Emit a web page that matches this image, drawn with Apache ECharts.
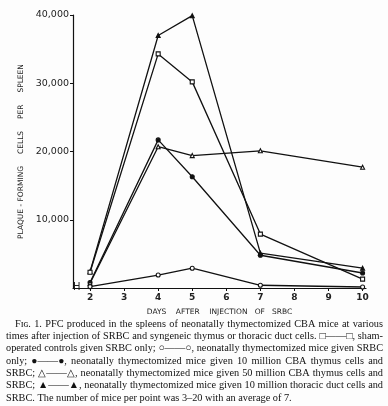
<!DOCTYPE html>
<html><head><meta charset="utf-8">
<script src="https://cdn.jsdelivr.net/npm/echarts@6/dist/echarts.min.js"></script>
<style>html,body{margin:0;padding:0;background:#fdfdfd}#c{width:388px;height:406px}</style>
</head><body><div id="c"></div>
<script>
var days = [2, 4, 5, 7, 10];
var dayTicks = [2, 3, 4, 5, 6, 7, 8, 9, 10];
var yTicks = [10000, 20000, 30000, 40000];
var thoracicDuct = [2400, 37000, 39900, 5100, 2900];   // filled triangles
var shamOperated = [2300, 34300, 30200, 7900, 1300];   // squares
var thymus10 = [800, 21700, 16300, 4800, 2200];        // filled circles
var thymus50 = [700, 20700, 19400, 20100, 17700];      // open triangles
var thymectomized = [200, 1900, 2900, 400, 150];       // open circles
var captionLines = [
  "F\u026A\u0262. 1. PFC produced in the spleens of neonatally thymectomized CBA mice at various",
  "times after injection of SRBC and syngeneic thymus or thoracic duct cells. \u25A1\u2014\u2014\u25A1, sham-",
  "operated controls given SRBC only; \u25CB\u2014\u2014\u25CB, neonatally thymectomized mice given SRBC",
  "only; \u25CF\u2014\u2014\u25CF, neonatally thymectomized mice given 10 million CBA thymus cells and",
  "SRBC; \u25B3\u2014\u2014\u25B3, neonatally thymectomized mice given 50 million CBA thymus cells and",
  "SRBC; \u25B2\u2014\u2014\u25B2, neonatally thymectomized mice given 10 million thoracic duct cells and",
  "SRBC. The number of mice per point was 3\u201320 with an average of 7."
];

function pts(vals){ return days.map(function(d,i){ return [d, vals[i]]; }); }
function mk(name, vals, symbol, filled){
  return {
    name: name, type: 'line', data: pts(vals), symbol: symbol, symbolSize: 4,
    showAllSymbol: true, animation: false,
    lineStyle: {color: '#111', width: 1.3},
    itemStyle: {color: filled ? '#111' : '#fff', borderColor: '#111', borderWidth: 1.1}
  };
}
var chart = echarts.init(document.getElementById('c'));
var graphics = [
  {type: 'text', left: 73, top: 282, style: {text: 'H', font: '10px "DejaVu Sans"', fill: '#222'}}
];
// justified caption
var capFont = '10.3px "Liberation Serif"';
var mctx = document.createElement('canvas').getContext('2d');
mctx.font = capFont;
var rightEdge = 383;
captionLines.forEach(function(t, i){
  var x0 = i === 0 ? 15 : 6;
  var y = 319 + i * 12.3;
  var words = t.split(' ');
  var last = i === captionLines.length - 1;
  var total = 0;
  words.forEach(function(w){ total += mctx.measureText(w).width; });
  var gap = last ? mctx.measureText(' ').width : (rightEdge - x0 - total) / (words.length - 1);
  var x = x0;
  words.forEach(function(w){
    graphics.push({type: 'text', x: x, y: y, style: {text: w, font: capFont, fill: '#111'}});
    x += mctx.measureText(w).width + gap;
  });
});
chart.setOption({
  backgroundColor: '#fdfdfd',
  animation: false,
  grid: {left: 73, right: 22, top: 15, bottom: 118},
  xAxis: {
    type: 'value', min: 1.5, max: 10.1,
    name: 'DAYS    AFTER    INJECTION   OF   SRBC', nameLocation: 'middle', nameGap: 20,
    nameTextStyle: {fontFamily: 'DejaVu Sans', fontSize: 7.5, color: '#222'},
    axisLine: {lineStyle: {color: '#111', width: 1.2}},
    axisTick: {customValues: dayTicks, length: 3, lineStyle: {color: '#111'}},
    axisLabel: {customValues: dayTicks, margin: 5, fontFamily: 'DejaVu Sans', fontSize: 9, fontWeight: 'bold', color: '#222'},
    splitLine: {show: false}
  },
  yAxis: {
    type: 'value', min: 0, max: 40000, interval: 10000,
    name: 'PLAQUE - FORMING     CELLS     PER     SPLEEN', nameLocation: 'middle', nameGap: 48,
    nameRotate: 90,
    nameTextStyle: {fontFamily: 'DejaVu Sans', fontSize: 7.5, color: '#222'},
    axisLine: {show: true, lineStyle: {color: '#111', width: 1.2}},
    axisTick: {show: true, customValues: yTicks, length: 3, lineStyle: {color: '#111'}},
    axisLabel: {customValues: yTicks, margin: 4, fontFamily: 'DejaVu Sans', fontSize: 9.5, color: '#222',
      formatter: function(v){ return v.toLocaleString('en-US'); }},
    splitLine: {show: false}
  },
  series: [
    mk('thoracic duct', thoracicDuct, 'triangle', true),
    mk('sham', shamOperated, 'rect', false),
    mk('thymus 10', thymus10, 'circle', true),
    mk('thymus 50', thymus50, 'triangle', false),
    mk('thymectomized', thymectomized, 'circle', false)
  ],
  graphic: graphics
});
</script></body></html>
